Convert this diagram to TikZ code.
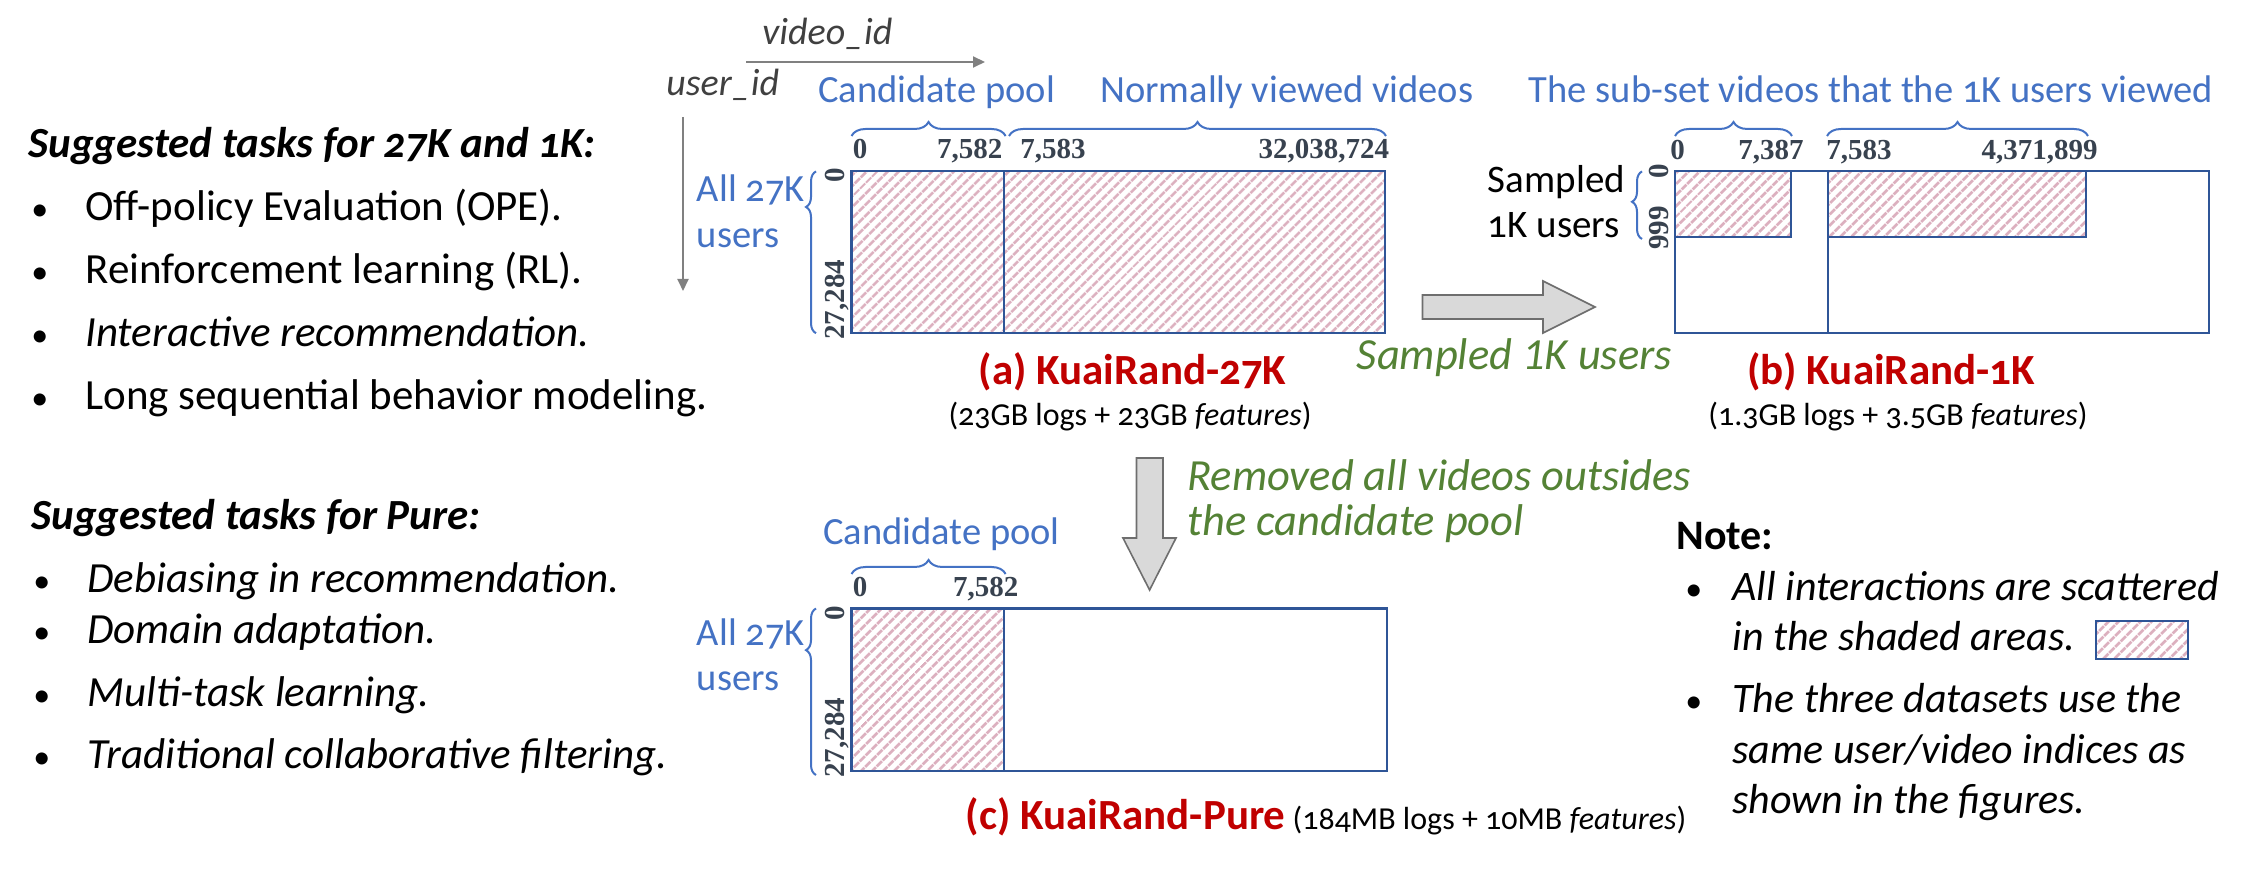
\documentclass[tikz,border=0pt]{standalone}
\usepackage{fontspec}
\setmainfont{Carlito}[Numbers=OldStyle]
\newfontfamily\greenfont{Carlito}[Numbers=Lining]
\newfontfamily\numfont{Liberation Serif}
\usetikzlibrary{patterns.meta,decorations.pathreplacing,arrows.meta}
\definecolor{kblue}{HTML}{4472C4}
\definecolor{kframe}{HTML}{2F5597}
\definecolor{kred}{HTML}{C00000}
\definecolor{kgreen}{HTML}{548235}
\definecolor{knum}{HTML}{38424F}
\definecolor{khatch}{RGB}{220,176,191}
\definecolor{kgraytext}{HTML}{404040}
\definecolor{kaxis}{HTML}{808080}
\definecolor{kfill}{HTML}{D9D9D9}
\definecolor{kedge}{HTML}{6E6E6E}
\begin{document}
\begin{tikzpicture}[x=0.5pt,y=-0.5pt,
  body/.style={anchor=mid west,inner sep=0pt,font=\fontsize{21.5}{25}\selectfont},
  bul/.style={anchor=mid west,inner sep=0pt,font=\fontsize{17}{20}\selectfont},
  ibody/.style={body,font=\itshape\fontsize{21.5}{25}\selectfont},
  head/.style={anchor=mid west,inner sep=0pt,font=\bfseries\itshape\fontsize{21.5}{25}\selectfont},
  notebody/.style={anchor=mid west,inner sep=0pt,font=\itshape\fontsize{21}{25}\selectfont},
  lbl/.style={inner sep=0pt,text=kblue,font=\fontsize{19.25}{23}\selectfont},
  blk/.style={inner sep=0pt,anchor=mid west,font=\fontsize{19.5}{23}\selectfont},
  axislbl/.style={inner sep=0pt,anchor=mid west,text=kgraytext,font=\itshape\fontsize{19}{23}\selectfont},
  num/.style={inner sep=0pt,text=knum,font=\numfont\bfseries\fontsize{14.5}{16}\selectfont},
  rnum/.style={num,rotate=90,anchor=mid west},
  ttl/.style={inner sep=0pt,anchor=base,text=kred,font=\bfseries\fontsize{21.5}{25}\selectfont},
  subttl/.style={inner sep=0pt,anchor=base,font=\fontsize{16}{19}\selectfont},
  grn/.style={inner sep=0pt,anchor=mid west,text=kgreen,font=\greenfont\itshape\fontsize{22.25}{26}\selectfont},
  frame/.style={draw=kframe,line width=1.1pt},
  hatchbox/.style={draw=kframe,line width=1.1pt,pattern={Lines[angle=45,distance=4pt,line width=1.5pt]},pattern color=khatch},
  hbrace/.style={draw=kblue,line width=1pt,decorate,decoration={brace,amplitude=7pt}},
  vbrace/.style={draw=kblue,line width=1pt,decorate,decoration={brace,amplitude=5pt,aspect=#1}},
  axis/.style={draw=kaxis,line width=1pt,-{Triangle[length=6pt,width=5.5pt]}},
  blockarrow/.style={fill=kfill,draw=kedge,line width=0.8pt}
]
\useasboundingbox (0,0) rectangle (2266,881);

% ---------------- left column ----------------
\node[head] (t1) at (28,153) {Suggested tasks for 27K and 1K:};
\node[bul] (b1) at (31,216) {\textbullet};
\node[body] (i1) at (85,216) {Off-policy Evaluation (OPE).};
\node[bul] (b2) at (31,279) {\textbullet};
\node[body] (i2) at (85,279) {Reinforcement learning (RL).};
\node[bul] (b3) at (31,342) {\textbullet};
\node[ibody] (i3) at (85,342) {Interactive recommendation.};
\node[bul] (b4) at (31,405) {\textbullet};
\node[body] (i4) at (85,405) {Long sequential behavior modeling.};

\node[head] (t2) at (31,525) {Suggested tasks for Pure:};
\node[bul] (b5) at (33,588) {\textbullet};
\node[ibody] (i5) at (87,588) {Debiasing in recommendation.};
\node[bul] (b6) at (33,639) {\textbullet};
\node[ibody] (i6) at (87,639) {Domain adaptation.};
\node[bul] (b7) at (33,702) {\textbullet};
\node[ibody] (i7) at (87,702) {Multi-task learning.};
\node[bul] (b8) at (33,764) {\textbullet};
\node[ibody] (i8) at (87,764) {Traditional collaborative filtering.};

% ---------------- axes ----------------
\node[axislbl] (vid) at (762,40) {video\_id};
\node[axislbl] (uid) at (666,91) {user\_id};
\coordinate (hx0) at (746,62);
\coordinate (hx1) at (985,62);
\draw[axis] (hx0) -- (hx1);
\coordinate (vy0) at (683,117);
\coordinate (vy1) at (683,291);
\draw[axis] (vy0) -- (vy1);

% ---------------- (a) KuaiRand-27K ----------------
\node[lbl,anchor=mid] (acand) at (936.7,98) {Candidate pool};
\node[lbl,anchor=mid] (anorm) at (1286.8,98) {Normally viewed videos};
\draw[hbrace] (851.5,136) -- (1005.6,136);
\draw[hbrace] (1009,136) -- (1386,136);
\node[num,anchor=mid west] (a0) at (852.5,154) {0};
\node[num,anchor=mid east] (a1) at (1002.7,154) {7,582};
\node[num,anchor=mid west] (a2) at (1020,154) {7,583};
\node[num,anchor=mid east] (a3) at (1389.5,154) {32,038,724};
\draw[hatchbox] (851.5,171.4) rectangle (1004,333.2);
\draw[hatchbox] (1004,171.4) rectangle (1384.6,333.2);
\draw[vbrace=0.78] (816,333.2) -- (816,171.4);
\node[rnum] (ar0) at (839.5,183) {0};
\node[rnum] (ar1) at (839.5,340) {27,284};
\node[lbl,anchor=mid west] (aall) at (696.5,197) {All 27K};
\node[lbl,anchor=mid west] (ausr) at (696.5,243) {users};
\node[ttl] (attl) at (1132.5,385) {(a) KuaiRand-27K};
\node[subttl] (asub) at (1130,426) {(23GB logs + 23GB \textit{features})};

% ---------------- arrow to (b) ----------------
\draw[blockarrow] (1422.5,295) -- (1543,295) -- (1543,281) -- (1595,307) -- (1543,333) -- (1543,319) -- (1422.5,319) -- cycle;
\node[grn] (gs) at (1356.5,365) {Sampled 1K users};

% ---------------- (b) KuaiRand-1K ----------------
\node[lbl,anchor=mid] (bsub) at (1871,98) {The sub-set videos that the 1K users viewed};
\draw[hbrace] (1675,136) -- (1792,136);
\draw[hbrace] (1827,136) -- (2088,136);
\node[num,anchor=mid west] (b0) at (1670,155) {0};
\node[num,anchor=mid east] (b1n) at (1804,155) {7,387};
\node[num,anchor=mid west] (b2n) at (1826,155) {7,583};
\node[num,anchor=mid east] (b3n) at (2098,155) {4,371,899};
\draw[frame] (1675,171.4) rectangle (2209,333.2);
\draw[frame] (1828,171.4) -- (1828,333.2);
\draw[hatchbox] (1675,171.4) rectangle (1791,237);
\draw[hatchbox] (1828,171.4) rectangle (2086,237);
\draw[vbrace=0.55] (1642,239) -- (1642,171.4);
\node[rnum] (br0) at (1663.5,179) {0};
\node[rnum] (br1) at (1663.5,250) {999};
\node[blk] (bs1) at (1487.5,188) {Sampled};
\node[blk] (bs2) at (1487.5,233) {1K users};
\node[ttl] (bttl) at (1891,385) {(b) KuaiRand-1K};
\node[subttl] (bsubt) at (1898,426) {(1.3GB logs + 3.5GB \textit{features})};

% ---------------- arrow to (c) ----------------
\draw[blockarrow] (1136.5,458) -- (1163,458) -- (1163,538) -- (1176,538) -- (1149.6,590) -- (1123,538) -- (1136.5,538) -- cycle;
\node[grn] (gr1) at (1187,486) {Removed all videos outsides};
\node[grn] (gr2) at (1187,531) {the candidate pool};

% ---------------- (c) KuaiRand-Pure ----------------
\node[lbl,anchor=mid] (ccand) at (941.5,539.5) {Candidate pool};
\draw[hbrace] (851.5,574) -- (1005.6,574);
\node[num,anchor=mid west] (c0) at (852.5,592) {0};
\node[num,anchor=mid east] (c1) at (1018.7,592) {7,582};
\draw[frame] (851.5,608.5) rectangle (1387,771);
\draw[hatchbox] (851.5,608.5) rectangle (1004,771);
\draw[vbrace=0.75] (816,775) -- (816,608.5);
\node[rnum] (cr0) at (839.5,621) {0};
\node[rnum] (cr1) at (839.5,778) {27,284};
\node[lbl,anchor=mid west] (call) at (696.5,641) {All 27K};
\node[lbl,anchor=mid west] (cusr) at (696.5,686) {users};
\node[inner sep=0pt,anchor=base,font=\fontsize{16}{19}\selectfont] (cttl) at (1326,829)
  {{\bfseries\color{kred}\fontsize{21.5}{25}\selectfont (c) KuaiRand-Pure} (184MB logs + 10MB \textit{features})};

% ---------------- note ----------------
\node[inner sep=0pt,anchor=mid west,font=\bfseries\fontsize{21}{25}\selectfont] (nt) at (1676,545) {Note:};
\node[bul] (nb1) at (1685,596) {\textbullet};
\node[notebody] (n1) at (1732,596) {All interactions are scattered};
\node[notebody] (n2) at (1732,646) {in the shaded areas.};
\draw[hatchbox] (2096,621) rectangle (2188,659);
\node[bul] (nb2) at (1685,708) {\textbullet};
\node[notebody] (n3) at (1732,708) {The three datasets use the};
\node[notebody] (n4) at (1732,759) {same user/video indices as};
\node[notebody] (n5) at (1732,809) {shown in the figures.};
\end{tikzpicture}
\end{document}
